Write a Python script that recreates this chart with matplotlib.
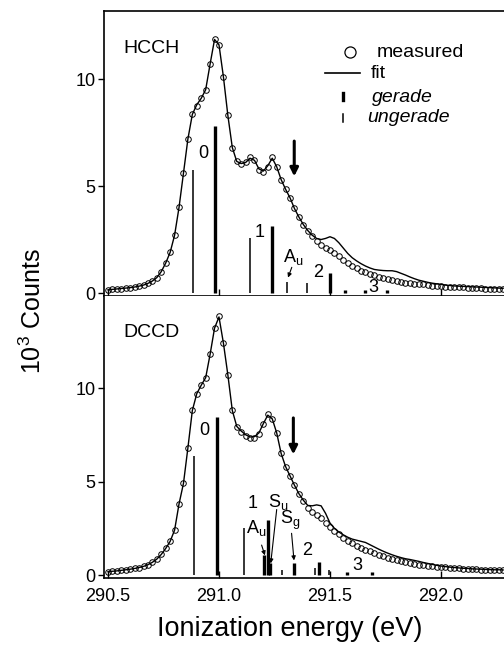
import numpy as np
import matplotlib
matplotlib.use("Agg")
import matplotlib.pyplot as plt

plt.rcParams['font.family'] = ['Liberation Sans', 'DejaVu Sans']
plt.rcParams['mathtext.fontset'] = 'custom'
plt.rcParams['mathtext.rm'] = 'Liberation Sans'
plt.rcParams['mathtext.it'] = 'Liberation Sans:italic'

# ---------------- data ----------------
energy = [290.50 + 0.02 * i for i in range(90)]

hcch_measured = [
    0.15, 0.17, 0.19, 0.21, 0.23, 0.25, 0.28, 0.32, 0.37, 0.45,
    0.56, 0.72, 1.00, 1.40, 1.90, 2.70, 4.00, 5.60, 7.20, 8.35,
    8.75, 9.10, 9.50, 10.70, 11.85, 11.60, 10.10, 8.30, 6.80, 6.15,
    6.05, 6.10, 6.35, 6.20, 5.75, 5.65, 5.90, 6.35, 5.90, 5.30,
    4.85, 4.45, 3.95, 3.55, 3.20, 2.90, 2.65, 2.42, 2.25, 2.10,
    2.00, 1.88, 1.72, 1.56, 1.40, 1.27, 1.15, 1.04, 0.96, 0.89,
    0.82, 0.77, 0.71, 0.65, 0.60, 0.56, 0.52, 0.49, 0.47, 0.44,
    0.42, 0.40, 0.37, 0.35, 0.33, 0.31, 0.30, 0.29, 0.28, 0.27,
    0.26, 0.25, 0.24, 0.23, 0.22, 0.21, 0.20, 0.19, 0.18, 0.17]

hcch_fit = [
    0.15, 0.17, 0.19, 0.21, 0.23, 0.25, 0.28, 0.32, 0.37, 0.45,
    0.56, 0.72, 1.00, 1.40, 1.90, 2.70, 4.00, 5.60, 7.20, 8.35,
    8.80, 9.10, 9.50, 10.70, 11.85, 11.60, 10.10, 8.30, 6.80, 6.15,
    6.05, 6.10, 6.30, 6.20, 5.80, 5.70, 5.95, 6.30, 5.90, 5.30,
    4.85, 4.45, 3.95, 3.55, 3.20, 2.92, 2.70, 2.55, 2.50, 2.55,
    2.63, 2.55, 2.35, 2.10, 1.85, 1.65, 1.50, 1.37, 1.26, 1.17,
    1.10, 1.07, 1.05, 1.04, 1.04, 1.00, 0.92, 0.84, 0.75, 0.67,
    0.60, 0.55, 0.50, 0.46, 0.43, 0.40, 0.37, 0.35, 0.33, 0.32,
    0.31, 0.30, 0.29, 0.28, 0.27, 0.26, 0.25, 0.24, 0.23, 0.22]

dccd_measured = [
    0.18, 0.20, 0.22, 0.25, 0.28, 0.31, 0.35, 0.40, 0.46, 0.55,
    0.68, 0.85, 1.10, 1.42, 1.80, 2.40, 3.80, 4.90, 6.80, 8.80,
    9.70, 10.15, 10.55, 11.80, 13.20, 13.85, 12.40, 10.70, 8.80, 7.90,
    7.65, 7.45, 7.30, 7.32, 7.55, 8.10, 8.60, 8.35, 7.60, 6.50,
    5.80, 5.30, 4.80, 4.35, 3.95, 3.60, 3.35, 3.20, 3.05, 2.80,
    2.58, 2.38, 2.18, 2.00, 1.84, 1.70, 1.57, 1.46, 1.36, 1.26,
    1.17, 1.09, 1.01, 0.93, 0.86, 0.79, 0.73, 0.68, 0.64, 0.60,
    0.56, 0.53, 0.50, 0.47, 0.45, 0.43, 0.41, 0.39, 0.37, 0.35,
    0.34, 0.32, 0.31, 0.30, 0.29, 0.28, 0.27, 0.26, 0.25, 0.25]

dccd_fit = [
    0.18, 0.20, 0.22, 0.25, 0.28, 0.31, 0.35, 0.40, 0.46, 0.55,
    0.68, 0.85, 1.10, 1.42, 1.80, 2.40, 3.80, 4.90, 6.80, 8.80,
    9.70, 10.15, 10.55, 11.80, 13.20, 13.80, 12.40, 10.70, 8.80, 7.95,
    7.70, 7.50, 7.38, 7.40, 7.60, 8.10, 8.55, 8.35, 7.60, 6.50,
    5.80, 5.30, 4.80, 4.35, 4.00, 3.72, 3.70, 3.75, 3.70, 3.30,
    2.78, 2.50, 2.30, 2.15, 2.02, 1.92, 1.86, 1.80, 1.74, 1.62,
    1.50, 1.38, 1.27, 1.17, 1.08, 1.00, 0.93, 0.87, 0.83, 0.78,
    0.73, 0.67, 0.62, 0.57, 0.52, 0.48, 0.45, 0.42, 0.40, 0.38,
    0.36, 0.35, 0.33, 0.32, 0.31, 0.30, 0.29, 0.28, 0.28, 0.27]

hcch_stick_e = [290.882, 290.982, 291.140, 291.239, 291.308, 291.395, 291.500, 291.568, 291.658, 291.755]
hcch_stick_h = [5.75, 7.80, 2.55, 3.13, 0.53, 0.47, 0.92, 0.15, 0.15, 0.15]
hcch_stick_g = [False, True, False, True, False, False, True, True, True, True]

dccd_stick_e = [290.887, 290.990, 291.114, 291.204, 291.219, 291.230, 291.285, 291.336, 291.432, 291.450, 291.497, 291.575, 291.688]
dccd_stick_h = [6.36, 8.45, 2.50, 1.05, 2.94, 0.63, 0.25, 0.62, 0.36, 0.71, 0.27, 0.18, 0.15]
dccd_stick_g = [False, True, False, True, True, True, False, True, False, True, False, True, True]

xticks = [290.5, 291.0, 291.5, 292.0]
xticklabels = ["290.5", "291.0", "291.5", "292.0"]
yticks = [0, 5, 10]

# ---------------- figure ----------------
W, H = 504, 646
fig = plt.figure(figsize=(W / 100, H / 100), dpi=100)
ax1 = fig.add_axes([104 / W, (H - 296) / H, 400 / W, 285 / H])
ax2 = fig.add_axes([104 / W, (H - 578) / H, 400 / W, 282 / H])

xlim = (290.482, 292.284)

def style(ax, ylim, labels):
    ax.set_xlim(*xlim)
    ax.set_ylim(*ylim)
    ax.spines['right'].set_visible(False)
    for s in ax.spines.values():
        s.set_linewidth(1.2)
    ax.set_xticks(xticks)
    ax.set_yticks(yticks)
    ax.set_yticklabels([str(t) for t in yticks])
    ax.tick_params(axis='x', direction='in', length=5, width=1.0, pad=7, labelsize=13)
    ax.tick_params(axis='y', direction='out', length=4, width=1.0, pad=2, labelsize=13)
    if labels:
        ax.set_xticklabels(xticklabels)
    else:
        ax.set_xticklabels([])

style(ax1, (-0.14, 13.18), False)
style(ax2, (-0.16, 14.92), True)
ax2.spines['top'].set_visible(False)

for ax, m, f, se, sh, sg in [
        (ax1, hcch_measured, hcch_fit, hcch_stick_e, hcch_stick_h, hcch_stick_g),
        (ax2, dccd_measured, dccd_fit, dccd_stick_e, dccd_stick_h, dccd_stick_g)]:
    ax.plot(energy, f, color='black', lw=1.0, zorder=3)
    ax.plot(energy, m, ls='none', marker='o', ms=4.0, mfc='none', mec='black', mew=0.7, zorder=4)
    for e, h, g in zip(se, sh, sg):
        ax.vlines(e, 0, h, color='black', lw=2.4 if g else 1.1, zorder=2)

fs_lab = 13
# --- HCCH annotations ---
ax1.text(0.0475, 0.87, "HCCH", transform=ax1.transAxes, fontsize=14, ha='left', va='center')
ax1.text(290.928, 6.5, "0", fontsize=fs_lab, ha='center', va='center')
ax1.text(291.185, 2.85, "1", fontsize=fs_lab, ha='center', va='center')
ax1.text(291.333, 1.68, r"A$_\mathregular{u}$", fontsize=fs_lab, ha='center', va='center')
ax1.text(291.446, 0.98, "2", fontsize=fs_lab, ha='center', va='center')
ax1.text(291.694, 0.28, "3", fontsize=fs_lab, ha='center', va='center')
ax1.annotate("", xy=(291.311, 0.72), xytext=(291.328, 1.2),
             arrowprops=dict(arrowstyle='-|>', lw=0.8, color='black', mutation_scale=6, shrinkA=0, shrinkB=0))
ax1.annotate("", xy=(291.339, 5.45), xytext=(291.339, 7.1),
             arrowprops=dict(arrowstyle='-|>', lw=2.2, color='black', mutation_scale=12, shrinkA=0, shrinkB=0))

# legend (drawn by hand, as in the original)
ax1.plot([0.615], [0.856], transform=ax1.transAxes, marker='o', ms=8, mfc='none', mec='black', mew=0.9)
ax1.text(0.6825, 0.856, "measured", transform=ax1.transAxes, fontsize=14, ha='left', va='center')
ax1.plot([0.5525, 0.64], [0.782, 0.782], transform=ax1.transAxes, color='black', lw=1.2)
ax1.text(0.6675, 0.782, "fit", transform=ax1.transAxes, fontsize=14, ha='left', va='center')
ax1.plot([0.5975, 0.5975], [0.686, 0.712], transform=ax1.transAxes, color='black', lw=2.4)
ax1.text(0.67, 0.698, "gerade", transform=ax1.transAxes, fontsize=14, ha='left', va='center', style='italic')
ax1.plot([0.5975, 0.5975], [0.612, 0.638], transform=ax1.transAxes, color='black', lw=1.1)
ax1.text(0.6575, 0.625, "ungerade", transform=ax1.transAxes, fontsize=14, ha='left', va='center', style='italic')

# --- DCCD annotations ---
ax2.text(0.0475, 0.869, "DCCD", transform=ax2.transAxes, fontsize=14, ha='left', va='center')
ax2.text(290.932, 7.75, "0", fontsize=fs_lab, ha='center', va='center')
ax2.text(291.152, 3.8, "1", fontsize=fs_lab, ha='center', va='center')
ax2.text(291.17, 2.5, r"A$_\mathregular{u}$", fontsize=fs_lab, ha='center', va='center')
ax2.text(291.267, 3.92, r"S$_\mathregular{u}$", fontsize=fs_lab, ha='center', va='center')
ax2.text(291.32, 2.94, r"S$_\mathregular{g}$", fontsize=fs_lab, ha='center', va='center')
ax2.text(291.395, 1.3, "2", fontsize=fs_lab, ha='center', va='center')
ax2.text(291.625, 0.53, "3", fontsize=fs_lab, ha='center', va='center')
for (x0, y0, x1, y1) in [(291.192, 1.6, 291.207, 1.05),
                         (291.26, 3.5, 291.233, 0.62),
                         (291.327, 2.23, 291.338, 0.78)]:
    ax2.annotate("", xy=(x1, y1), xytext=(x0, y0),
                 arrowprops=dict(arrowstyle='-|>', lw=0.8, color='black', mutation_scale=6, shrinkA=0, shrinkB=0))
ax2.annotate("", xy=(291.335, 6.45), xytext=(291.335, 8.4),
             arrowprops=dict(arrowstyle='-|>', lw=2.2, color='black', mutation_scale=12, shrinkA=0, shrinkB=0))

fig.text(33 / W, 1 - 311 / H, r"10$^\mathregular{3}$ Counts", rotation=90, fontsize=18, ha='center', va='center')
fig.text(290 / W, 1 - 629 / H, "Ionization energy (eV)", fontsize=19.5, ha='center', va='center')

fig.savefig("out.png", dpi=100)
